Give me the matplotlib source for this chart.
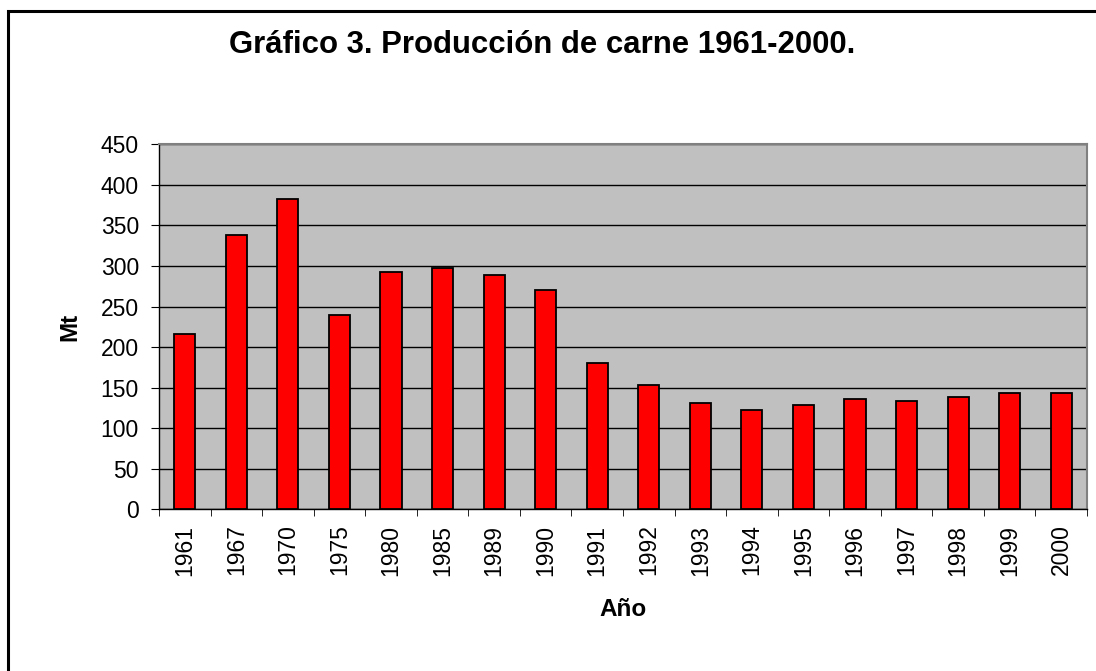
import matplotlib
matplotlib.use("Agg")
import matplotlib.pyplot as plt
import matplotlib.patches as mpatches
import numpy as np

years = ["1961", "1967", "1970", "1975", "1980", "1985", "1989", "1990", "1991",
         "1992", "1993", "1994", "1995", "1996", "1997", "1998", "1999", "2000"]
production = [216, 338, 382, 240, 292, 297, 289, 270, 180,
              153, 131, 122, 128, 136, 134, 139, 144, 144]

plt.rcParams['font.family'] = ['Liberation Sans', 'DejaVu Sans']

fig = plt.figure(figsize=(10.96, 6.71), dpi=100)
ax = fig.add_axes([159 / 1096, 1 - 509.3 / 671, (1087 - 159) / 1096, (509.3 - 144.3) / 671])

# outer chart border (only top and left are visible in the original)
fig.patches.append(mpatches.Rectangle((8 / 1096, -0.1), 1.2, 1 - 11 / 671 + 0.1,
                                      transform=fig.transFigure, fill=False,
                                      edgecolor='black', linewidth=2.2))

x = np.arange(len(years))
ax.set_facecolor('#C0C0C0')
ax.bar(x, production, width=0.41, color='#FF0000', edgecolor='black', linewidth=1.3, zorder=3)

ax.set_xlim(-0.5, len(years) - 0.5)
ax.set_ylim(0, 450)
ax.set_yticks(range(0, 451, 50))
ax.yaxis.grid(True, color='black', linewidth=1.0, zorder=1)
ax.set_axisbelow(True)

ax.set_xticks(x)
ax.set_xticklabels(years, rotation=90, fontsize=16.5)
ax.set_xticks(np.arange(-0.5, len(years), 1), minor=True)
ax.tick_params(axis='x', which='major', length=0, pad=11)
ax.tick_params(axis='x', which='minor', length=5, direction='out', color='black')
ax.tick_params(axis='y', length=5.5, direction='out', labelsize=16.5, pad=9)

for s in ['top', 'right']:
    ax.spines[s].set_color('#808080')
    ax.spines[s].set_linewidth(1.5)
for s in ['left', 'bottom']:
    ax.spines[s].set_color('black')
    ax.spines[s].set_linewidth(1.0)

ax.set_xlabel("Año", fontsize=17.5, fontweight='bold', labelpad=16)
ax.set_ylabel("Mt", fontsize=17.5, fontweight='bold', labelpad=14)

fig.text(542 / 1096, 1 - 45 / 671, "Gráfico 3. Producción de carne 1961-2000.",
         ha='center', va='center', fontsize=22.4, fontweight='bold')

fig.savefig("out.png", dpi=100)
